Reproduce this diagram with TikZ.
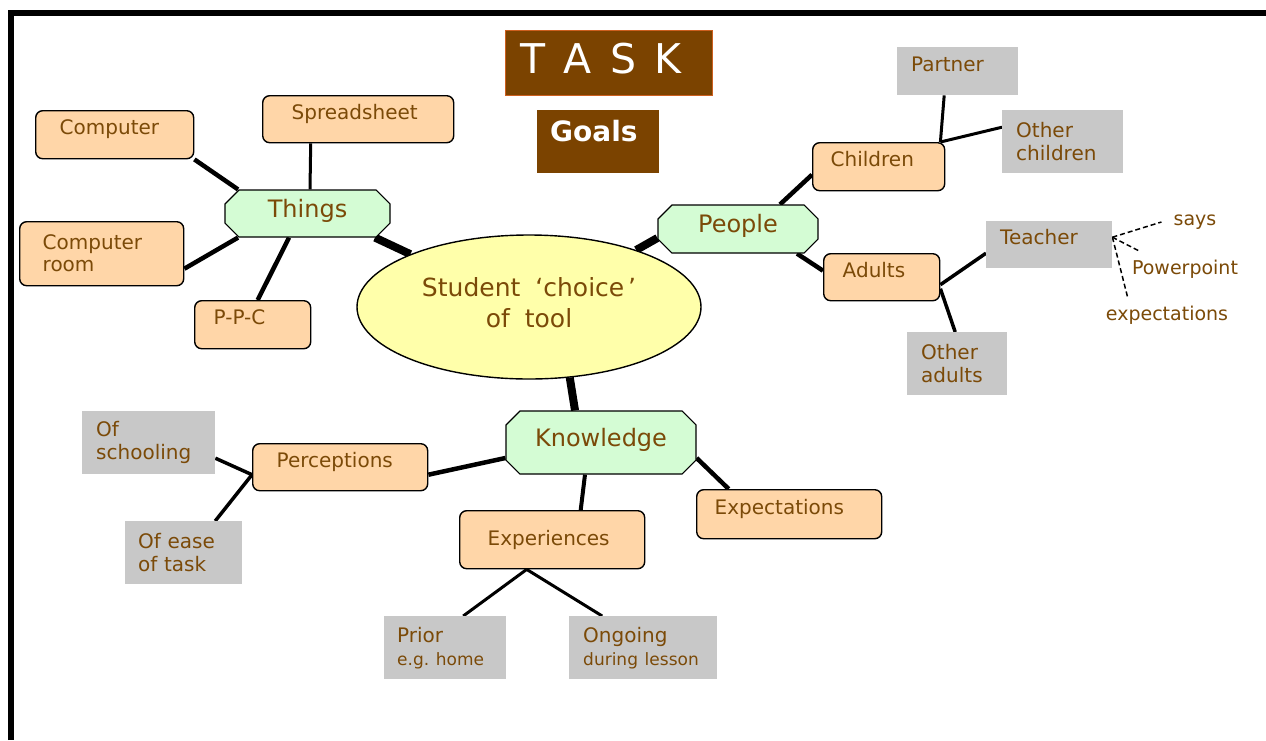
\documentclass[tikz,border=0pt]{standalone}
\usepackage{fontspec}
\setmainfont{DejaVu Sans}
\usetikzlibrary{positioning, shapes.geometric, shapes.misc, backgrounds}
\definecolor{taskbrown}{RGB}{123,67,0}
\definecolor{taskedge}{RGB}{205,95,30}
\definecolor{inkbrown}{RGB}{123,74,8}
\definecolor{leaforange}{RGB}{255,214,168}
\definecolor{branchgreen}{RGB}{212,252,212}
\definecolor{hubyellow}{RGB}{255,255,170}
\definecolor{notegray}{RGB}{200,200,200}

\begin{document}
\begin{tikzpicture}[
    x=1pt, y=-1pt,
    every node/.style={text=inkbrown, inner sep=0pt},
    leaf/.style={
        rectangle,
        rounded corners=7pt,
        draw=black,
        line width=1.4pt,
        fill=leaforange,
        anchor=north west,
        align=left,
        font=\fontsize{20}{22}\selectfont
    },
    note/.style={
        rectangle,
        fill=notegray,
        anchor=north west,
        align=left,
        inner xsep=14pt,
        font=\fontsize{20}{23}\selectfont
    },
    branch/.style={
        chamfered rectangle,
        chamfered rectangle xsep=15pt,
        draw=black,
        line width=1.2pt,
        fill=branchgreen,
        font=\fontsize{24}{28}\selectfont,
        text height=14pt,
        text depth=6.5pt
    },
    oneline/.style={text height=8pt, text depth=8pt},
    link/.style={line width=4.5pt},
    thinlink/.style={line width=3pt},
    hublink/.style={line width=8pt},
    aside/.style={font=\fontsize{19}{22}\selectfont},
    hint/.style={line width=1.5pt, dash pattern=on 5pt off 3pt}
]

\useasboundingbox (0,0) rectangle (1266,740);

% Title
\node[rectangle, fill=taskbrown, draw=taskedge, line width=0.8pt, anchor=north west,
      minimum width=207pt, minimum height=65pt, text width=177pt, inner xsep=15pt,
      align=left, text height=30pt, text depth=9pt, text=white,
      font=\fontsize{41}{48}\selectfont] (task) at (505,30)
      {T\hspace{0.45em}A\hspace{0.45em}S\hspace{0.45em}K};
\node[rectangle, fill=taskbrown, anchor=north west, minimum width=122pt,
      minimum height=63pt, text width=96pt, inner xsep=13pt, align=left,
      text height=10pt, text depth=10pt, text=white,
      font=\fontsize{28}{32}\selectfont\bfseries] (goals) at (537,110) {Goals};

% Hub
\node[ellipse, draw=black, line width=1.4pt, fill=hubyellow, minimum width=344pt,
      minimum height=144pt, align=center, text depth=10pt,
      font=\fontsize{25}{31}\selectfont]
      (student) at (529,307) {Student\hspace{0.6em}‘choice\hspace{0.15em}’\\of\hspace{0.6em}tool};

% Branches
\node[branch, minimum width=165pt, minimum height=47pt] (things) at (307.5,213.5) {Things};
\node[branch, minimum width=160pt, minimum height=48pt] (people) at (738,229) {People};
\node[branch, chamfered rectangle xsep=20pt, minimum width=190pt, minimum height=63pt]
      (knowledge) at (601,442.5) {Knowledge};

% Things
\node[leaf, oneline, text width=110pt, inner xsep=24pt, minimum height=48pt] (computer) at (35,110) {Computer};
\node[leaf, oneline, text width=133pt, inner xsep=29pt, minimum height=47pt] (spreadsheet) at (262,95) {Spreadsheet};
\node[leaf, text width=118pt, inner xsep=23pt, minimum height=64pt] (comproom) at (19,221) {Computer\\room};
\node[leaf, oneline, text width=78pt, inner xsep=19pt, minimum height=48pt] (ppc) at (194,300) {P-P-C};

% People
\node[leaf, oneline, text width=96pt, inner xsep=18pt, minimum height=48pt] (children) at (812,142) {Children};
\node[leaf, oneline, text width=78pt, inner xsep=19pt, minimum height=47pt] (adults) at (823,253) {Adults};
\node[note, oneline, text width=93pt, minimum height=48pt] (partner) at (897,47) {Partner};
\node[note, text width=93pt, minimum height=63pt] (otherkids) at (1002,110) {Other\\children};
\node[note, oneline, text width=98pt, minimum height=47pt] (teacher) at (986,221) {Teacher};
\node[note, text width=72pt, minimum height=63pt] (otheradults) at (907,332) {Other\\adults};
\node[aside] (says) at (1195,222) {says};
\node[aside] (powerpoint) at (1185,269) {Powerpoint};
\node[aside] (teachexp) at (1167,315) {expectations};

% Knowledge
\node[leaf, oneline, text width=127pt, inner xsep=24pt, minimum height=47pt] (perceptions) at (252,443) {Perceptions};
\node[leaf, text width=129pt, inner xsep=28pt, minimum height=58pt] (experiences) at (459,510) {Experiences};
\node[leaf, oneline, text width=149pt, inner xsep=18pt, minimum height=49pt] (expectations) at (696,489) {Expectations};
\node[note, text width=105pt, minimum height=63pt] (schooling) at (82,411) {Of\\schooling};
\node[note, text width=91pt, inner xsep=13pt, minimum height=63pt] (ease) at (125,521) {Of ease\\of task};
\node[note, text width=96pt, inner xsep=13pt, minimum height=63pt] (prior) at (384,616)
      {Prior\\{\fontsize{17}{19}\selectfont e.g.\ home}};
\node[note, text width=120pt, minimum height=63pt] (ongoing) at (569,616)
      {Ongoing\\{\fontsize{17}{19}\selectfont during lesson}};

\coordinate (fork) at ([yshift=7.5pt]teacher.east);

\begin{scope}[on background layer]
\fill[white] (0,0) rectangle (1266,740);
\draw[line width=6pt] (11,740) |- (1266,13);

% hub links
\draw[hublink] ([xshift=67.5pt]things.south) -- (student.156);
\draw[hublink] ([yshift=-9pt]people.west) -- (student.28);
\draw[hublink] ([xshift=-26pt]knowledge.north) -- (student.-60);

% things links
\draw[link] (computer.south east) -- ([xshift=-69.5pt]things.north);
\draw[thinlink] ([xshift=-47.5pt]spreadsheet.south) -- ([xshift=2.5pt]things.north);
\draw[link] ([yshift=-15pt]comproom.east) -- ([xshift=-69.5pt]things.south);
\draw[link] ([xshift=5pt]ppc.north) -- ([xshift=-18.5pt]things.south);

% people links
\draw[link] ([yshift=-8pt]children.west) -- ([xshift=42pt]people.north);
\draw[link] ([yshift=6.5pt]adults.west) -- ([xshift=59pt]people.south);
\draw[thinlink] ([xshift=-13.5pt]partner.south) -- ([xshift=-5pt]children.north east);
\draw[thinlink] ([yshift=14.5pt]otherkids.west) -- ([xshift=-5pt]children.north east);
\draw[link, line width=3.5pt] ([yshift=-8.5pt]teacher.west) -- ([yshift=-7.5pt]adults.east);
\draw[link, line width=3.5pt] ([xshift=-2pt]otheradults.north) -- ([yshift=-11.5pt]adults.east);
\draw[hint] (fork) -- ([xshift=-12pt]says.west);
\draw[hint] (fork) -- ([xshift=8.5pt, yshift=8pt]powerpoint.north west);
\draw[hint] (fork) -- ([xshift=22pt, yshift=8pt]teachexp.north west);

% knowledge links
\draw[link] ([yshift=-7.5pt]perceptions.east) -- ([yshift=-15.5pt]knowledge.west);
\draw[link, line width=3.5pt] ([yshift=-15.5pt]schooling.east) -- ([yshift=-7.5pt]perceptions.west);
\draw[link, line width=3.5pt] ([xshift=31.5pt]ease.north) -- ([yshift=-7.5pt]perceptions.west);
\draw[link, line width=4pt] ([xshift=-16pt]knowledge.south) -- ([xshift=28.5pt]experiences.north);
\draw[link] ([yshift=-15.5pt]knowledge.east) -- ([xshift=-60.5pt]expectations.north);
\draw[thinlink] ([xshift=-25.5pt]experiences.south) -- ([xshift=18pt]prior.north);
\draw[thinlink] ([xshift=-25.5pt]experiences.south) -- ([xshift=-41pt]ongoing.north);
\end{scope}

\end{tikzpicture}
\end{document}
